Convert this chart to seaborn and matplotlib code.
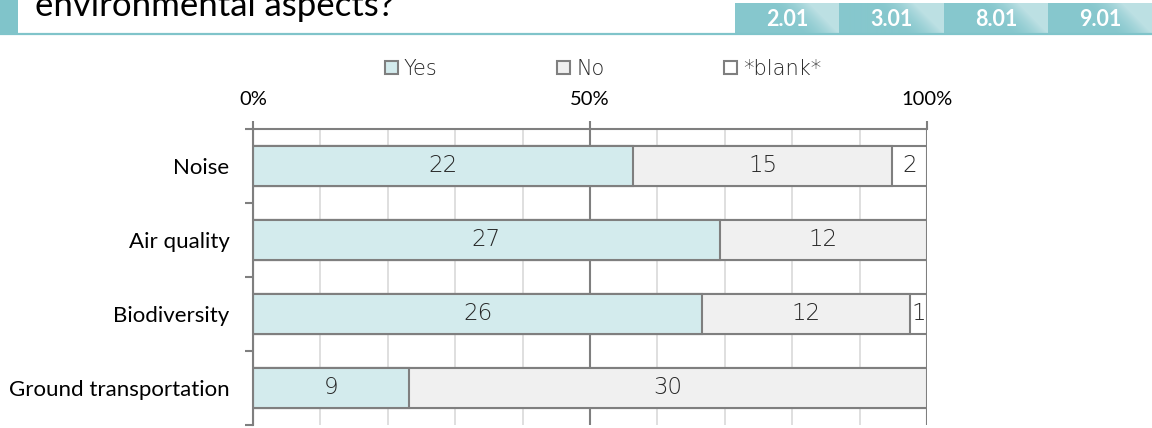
import numpy as np
import pandas as pd
import matplotlib
matplotlib.use("Agg")
import matplotlib.pyplot as plt
import seaborn as sns
from matplotlib.patches import Rectangle
from matplotlib.ticker import FixedLocator

# ---------------- data ----------------
categories = ["Noise", "Air quality", "Biodiversity", "Ground transportation"]
yes_counts = [22, 27, 26, 9]
no_counts = [15, 12, 12, 30]
blank_counts = [2, 0, 1, 0]
series_names = ["Yes", "No", "*blank*"]
x_tick_values = [0, 50, 100]
x_tick_labels = ["0%", "50%", "100%"]
header_title = "environmental aspects?"
header_tabs = ["2.01", "3.01", "8.01", "9.01"]

# ---------------- style ----------------
sns.set_theme(style="white")
plt.rcParams['font.family'] = ['Lato', 'DejaVu Sans']

EDGE = "#7F7F7F"
YES_C = "#D3EBED"
NO_C = "#F0F0F0"
BLANK_C = "#FFFFFF"
TEAL = "#80C4CA"
LABEL_C = "#262626"

df = pd.DataFrame({"category": categories, "yes": yes_counts,
                   "no": no_counts, "blank": blank_counts})
total = df[["yes", "no", "blank"]].sum(axis=1)
df["yes_pct"] = df["yes"] / total * 100
df["no_pct"] = df["no"] / total * 100
df["blank_pct"] = df["blank"] / total * 100
df["cum_yes"] = df["yes_pct"]
df["cum_no"] = df["yes_pct"] + df["no_pct"]
df["cum_blank"] = df["cum_no"] + df["blank_pct"]

W, H = 1152, 428
fig = plt.figure(figsize=(W / 100, H / 100), dpi=100)

# ---------------- header ----------------
hdr = fig.add_axes([0, 0, 1, 1])
hdr.axis("off")
hdr.add_patch(Rectangle((0, 0), 18, 34, facecolor=TEAL, edgecolor="none"))
hdr.plot([0, W], [34, 34], color=TEAL, lw=1.6, solid_capstyle="butt")
hdr.text(35, 16, header_title, fontsize=25, ha="left", va="baseline",
         color="black", family=["Lato", "DejaVu Sans"])

tab_edges = [735, 839, 944, 1048, 1152]
base = np.array([0x86, 0xC7, 0xCD]) / 255.0
nh, nw = 30, 104
u = np.linspace(0, 1, nw)[None, :]
v = np.linspace(0, 1, nh)[:, None]
wgt = np.clip((u - 0.62 + 0.28 * (1 - v)) / 0.38, 0, 1) ** 1.8 * 0.45
grad = base[None, None, :] * (1 - wgt[..., None]) + wgt[..., None]
for i, lab in enumerate(header_tabs):
    x0, x1 = tab_edges[i], tab_edges[i + 1]
    hdr.imshow(grad, extent=(x0, x1, 33, 3), aspect="auto", interpolation="bilinear")
    hdr.text((x0 + x1) / 2, 19, lab, color="white", fontsize=15.5, fontweight="bold",
             ha="center", va="center", family=["Lato", "DejaVu Sans"])
hdr.set_xlim(0, W)
hdr.set_ylim(H, 0)

# ---------------- main chart ----------------
ax = fig.add_axes([253 / W, (H - 425) / H, (927 - 253) / W, (425 - 129) / H])
bar_kw = dict(orient="h", edgecolor=EDGE, linewidth=1.5, width=0.54,
              saturation=1, ax=ax)
sns.barplot(data=df, x="cum_blank", y="category", color=BLANK_C, **bar_kw)
sns.barplot(data=df, x="cum_no", y="category", color=NO_C, **bar_kw)
sns.barplot(data=df, x="cum_yes", y="category", color=YES_C, **bar_kw)

ax.set_xlim(0, 100)
ax.set_ylim(3.5, -0.5)
ax.set_xlabel("")
ax.set_ylabel("")

# x axis on top
ax.xaxis.tick_top()
ax.set_xticks(x_tick_values)
ax.set_xticklabels(x_tick_labels, fontsize=14.5, color="black")
ax.xaxis.set_minor_locator(FixedLocator(list(range(0, 101, 10))))
ax.tick_params(axis="x", which="major", top=True, bottom=False, length=6,
               width=1.5, color=EDGE, direction="out", pad=9)
ax.tick_params(axis="x", which="minor", top=False, bottom=False, length=0)
ax.grid(which="minor", axis="x", color="#D9D9D9", lw=1.2)
ax.grid(which="major", axis="x", color=EDGE, lw=1.5)
ax.grid(which="both", axis="y", visible=False)
ax.set_axisbelow(True)

# y axis
ax.set_yticks(range(len(categories)))
ax.set_yticklabels(categories, fontsize=16, color="black")
ax.yaxis.set_minor_locator(FixedLocator([-0.5, 0.5, 1.5, 2.5, 3.5]))
ax.tick_params(axis="y", which="major", left=False, length=0, pad=17)
ax.tick_params(axis="y", which="minor", left=True, length=6, width=1.5,
               color=EDGE, direction="out")

for side in ["right", "bottom"]:
    ax.spines[side].set_visible(False)
for side in ["top", "left"]:
    ax.spines[side].set_color(EDGE)
    ax.spines[side].set_linewidth(1.5)

# data labels
lab_kw = dict(ha="center", va="center", fontsize=16.5, color=LABEL_C,
              family=["DejaVu Sans"], fontweight="light")
for i, row in df.iterrows():
    ax.text(row["yes_pct"] / 2, i, f"{row['yes']}", **lab_kw)
    if row["no"] > 0:
        ax.text(row["yes_pct"] + row["no_pct"] / 2, i, f"{row['no']}", **lab_kw)
    if row["blank"] > 0:
        ax.text(row["cum_no"] + row["blank_pct"] / 2, i, f"{row['blank']}", **lab_kw)

# legend
handles = [Rectangle((0, 0), 1, 1, facecolor=c, edgecolor=EDGE, lw=1.5)
           for c in (YES_C, NO_C, BLANK_C)]
fig.legend(handles, series_names, loc="center left",
           bbox_to_anchor=(385 / W, 1 - 69 / H), ncol=3, frameon=False,
           handlelength=0.6, handleheight=0.6, handletextpad=0.3,
           columnspacing=5.75, borderpad=0, borderaxespad=0,
           prop=dict(family="DejaVu Sans", size=15, weight="light"),
           labelcolor=LABEL_C)

fig.savefig("out.png", dpi=100)
